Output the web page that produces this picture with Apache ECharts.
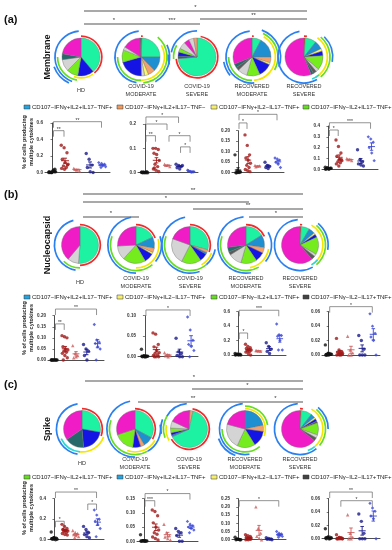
<!DOCTYPE html>
<html><head><meta charset="utf-8">
<script src="https://cdn.jsdelivr.net/npm/echarts/dist/echarts.min.js"></script>
<style>html,body{margin:0;padding:0;background:#fff}#c{width:392px;height:550px}</style>
</head><body><div id="c"></div>
<script>
// ---------------- DATA ----------------
const groupLabels = ['HD', 'COVID-19\nMODERATE', 'COVID-19\nSEVERE', 'RECOVERED\nMODERATE', 'RECOVERED\nSEVERE'];
const antigenNames = ['Membrane', 'Nucleocapsid', 'Spike'];
const panelLetters = ['(a)', '(b)', '(c)'];
const yTitle = '% of cells producing\nmultiple cytokines';

// SPICE pie slices, clockwise from 12 o'clock (shares)
const piesMembrane = [
  [['aqua',140],['blue',50],['green',35],['lgray',37],['teal',18],['mag',80]],
  [['red',3],['aqua',87],['steel',45],['orange',22],['yellow',12],['lgray',10],['blue',75],['green',38],['lgray',10],['mag',55],['dgray',3]],
  [['aqua',265],['teal',8],['blue',12],['green',12],['lgray',22],['mag',16],['lgray',15],['orange',10]],
  [['aqua',28],['steel',62],['orange',18],['yellow',6],['blue',42],['green',40],['lgray',30],['dgray',10],['teal',12],['mag',112]],
  [['red',4],['aqua',34],['steel',26],['yellow',8],['blue',14],['green',44],['lgray',10],['dgray',10],['teal',8],['mag',202]]
];
const piesNucleocapsid = [
  [['aqua',185],['lgray',35],['mag',140]],
  [['aqua',65],['steel',35],['orange',14],['yellow',6],['blue',30],['green',72],['lgray',45],['mag',93]],
  [['aqua',105],['orange',10],['steel',5],['blue',25],['green',62],['lgray',83],['mag',70]],
  [['aqua',58],['steel',40],['orange',18],['blue',30],['green',50],['lgray',42],['dgray',10],['teal',15],['mag',97]],
  [['red',4],['aqua',26],['steel',20],['yellow',5],['blue',10],['green',55],['lgray',8],['dgray',12],['mag',220]]
];
const piesSpike = [
  [['aqua',100],['blue',75],['teal',60],['mag',125]],
  [['aqua',118],['steel',32],['orange',12],['blue',25],['green',65],['mag',108]],
  [['red',3],['orange',10],['aqua',232],['steel',5],['blue',8],['green',15],['lgray',22],['mag',65]],
  [['steel',78],['orange',20],['blue',50],['green',57],['lgray',80],['mag',75]],
  [['red',4],['aqua',34],['steel',14],['yellow',5],['blue',8],['dgray',6],['green',38],['lgray',10],['dgray',10],['mag',231]]
];
// SPICE arcs: [startDeg, endDeg, colour key, ring level]
const arcsMembrane = [
  [[0,140,'red',1],[145,200,'yellow',1],[190,270,'green',2],[200,355,'blue',3],[205,250,'blue',4]],
  [[0,5,'red',1],[60,185,'yellow',2],[40,175,'green',3],[180,270,'green',2],[65,150,'blue',4],[190,355,'blue',3]],
  [[10,265,'red',1],[265,300,'green',2],[280,360,'blue',3],[255,275,'blue',4]],
  [[0,5,'red',1],[30,175,'yellow',2],[25,120,'green',3],[20,110,'blue',4],[180,270,'green',2],[175,355,'blue',3],[230,260,'blue',4]],
  [[0,8,'red',1],[35,150,'yellow',2],[40,140,'green',3],[45,100,'blue',4],[150,350,'blue',3],[140,160,'cyan',2]]
];
const arcsNucleocapsid = [
  [[0,180,'red',1],[180,225,'green',2],[190,345,'blue',3]],
  [[0,70,'red',1],[75,180,'yellow',2],[70,130,'blue',3],[140,290,'green',3],[180,350,'blue',4]],
  [[0,110,'red',1],[110,150,'yellow',2],[140,290,'green',3],[160,350,'blue',4],[100,140,'blue',3]],
  [[0,65,'red',1],[100,170,'yellow',2],[150,290,'green',3],[170,355,'blue',4],[60,130,'blue',3]],
  [[0,6,'red',1],[30,150,'yellow',2],[40,140,'green',3],[40,100,'blue',4],[150,355,'blue',3],[130,150,'cyan',2]]
];
const arcsSpike = [
  [[0,110,'red',1],[110,185,'yellow',2],[185,245,'cyan',2],[190,350,'blue',3]],
  [[0,120,'red',1],[120,200,'yellow',2],[150,290,'green',3],[180,350,'blue',4],[80,150,'blue',3]],
  [[10,240,'red',1],[240,280,'yellow',2],[250,300,'green',3],[260,290,'blue',4],[300,355,'blue',3]],
  [[0,110,'yellow',1],[0,80,'green',2],[140,270,'green',2],[170,355,'blue',3],[200,250,'blue',4]],
  [[0,8,'red',1],[30,140,'yellow',2],[40,130,'green',3],[40,90,'blue',4],[140,355,'blue',3],[140,160,'cyan',2]]
];
// significance between pies: [groupFrom, groupTo, row, label]
const sigMembrane = [[0,4,0,'*'],[2,4,1,'**'],[0,1,2,'*'],[1,2,2,'***']];
const sigNucleocapsid = [[0,4,0,'**'],[0,3,1,'*'],[2,4,2,'**'],[0,1,3,'*'],[3,4,3,'*']];
const sigSpike = [[0,4,0,'*'],[2,4,1,'*'],[1,3,2,'**'],[3,4,2,'*']];

// legend labels for scatter rows
const legendMembrane = [['CD107−IFNγ+IL2+IL17−TNF+','blue'],['CD107−IFNγ+IL2+IL17−TNF−','orange'],['CD107−IFNγ+IL2−IL17−TNF+','yellow'],['CD107−IFNγ−IL2+IL17−TNF+','green']];
const legendNucleocapsid = [['CD107−IFNγ+IL2+IL17−TNF+','blue'],['CD107−IFNγ+IL2−IL17−TNF+','yellow'],['CD107−IFNγ−IL2+IL17−TNF+','green'],['CD107−IFNγ−IL2−IL17+TNF+','dark']];
const legendSpike = [['CD107−IFNγ−IL2+IL17−TNF+','green'],['CD107−IFNγ+IL2+IL17−TNF+','blue'],['CD107−IFNγ+IL2−IL17−TNF+','yellow'],['CD107−IFNγ−IL2−IL17+TNF+','dark']];

// scatter values per plot: [HD, COVID mod, COVID sev, Rec mod, Rec sev]
const memP1 = [[0,0,0.01,0,0.02,0.01,0,0.03,0.01,0,0.04],[0.33,0.30,0.24,0.16,0.12,0.10,0.08,0.06,0.05,0.04,0.09],[0.05,0.03,0.02,0.04],[0.23,0.16,0.09,0.06,0.01,0],[0.12,0.11,0.10,0.09,0.08,0.07,0.06]];
const memP2 = [[0.002,0,0.004,0,0.001,0,0.003,0,0.002],[0.10,0.10,0.095,0.08,0.075,0.05,0.035,0.025,0.015,0.01,0.005,0.02],[0.035,0.03,0.025,0.03],[0.035,0.03,0.025,0.02,0.015,0.03],[0.01,0.005,0.003,0.008,0.002,0.004]];
const memP3 = [[0.085,0.01,0.005,0,0.002,0.003,0,0.001],[0.18,0.13,0.085,0.07,0.06,0.045,0.035,0.025,0.015,0.01,0.005],[0.035,0.03,0.032,0.028],[0.05,0.035,0.03,0.025,0.02],[0.07,0.065,0.06,0.05,0.04,0.025]];
const memP4 = [[0.02,0.01,0.01,0.005,0,0.01,0.015,0.005,0],[0.27,0.21,0.15,0.12,0.09,0.08,0.07,0.06,0.05,0.03,0.09],[0.10,0.09,0.08,0.09],[0.18,0.09,0.07,0.05,0.04,0.03],[0.30,0.28,0.25,0.20,0.15,0.08]];
const nucP1 = [[0,0,0,0,0,0,0,0,0],[0.11,0.105,0.10,0.06,0.05,0.045,0.04,0.035,0.03,0.02,0.01,0],[0.065,0.03,0.02,0.01,0.015],[0.07,0.05,0.04,0.02,0],[0.16,0.09,0.08,0.075,0.06,0.05,0]];
const nucP2 = [[0.018,0.002,0.001,0,0,0.001,0.002,0,0.001,0],[0.058,0.055,0.03,0.024,0.015,0.01,0.008,0.005,0.003,0,0,0],[0.01,0.005,0.003,0.002,0],[0.045,0.012,0.008,0.003,0,0],[0.097,0.065,0.04,0.03,0.025,0.015,0]];
const nucP3 = [[0.02,0.01,0.01,0.005,0,0,0.01,0.005,0],[0.15,0.12,0.10,0.09,0.08,0.07,0.06,0.05,0.04,0.02,0],[0.06,0.055,0.05,0.06],[0.17,0.12,0.08,0.05,0.02],[0.43,0.28,0.27,0.26,0.20,0.07,0.07]];
const nucP4 = [[0.014,0.002,0.001,0,0,0.001,0,0.001,0],[0.023,0.007,0.005,0.004,0.003,0.002,0.001,0,0,0,0.001],[0.026,0.007,0.003,0,0],[0.027,0.02,0.008,0,0,0],[0.057,0.04,0.03,0.025,0.02,0]];
const spkP1 = [[0.075,0.02,0.015,0.01,0.01,0.005,0.005,0,0.01,0.02],[0.15,0.13,0.11,0.10,0.09,0.085,0.08,0.07,0.06,0.05,0.045,0.10],[0.09,0.07,0.06,0.05,0.04,0.03,0.02],[0.13,0.10,0.07,0.05,0.03,0.02],[0.29,0.24,0.20,0.18,0.15,0.11,0.03]];
const spkP2 = [[0.023,0.002,0.001,0,0,0.001,0.002,0,0.001],[0.11,0.105,0.09,0.065,0.05,0.04,0.03,0.025,0.015,0.01,0.005],[0.06,0.03,0.02,0.015,0.01,0.005],[0.045,0.035,0.03,0.02,0,0],[0.07,0.06,0.055,0.05,0.045,0.04,0.03]];
const spkP3 = [[0.015,0.005,0,0,0.002,0,0.003,0.001],[0.03,0.025,0.02,0.015,0.01,0.01,0.005,0.005,0,0,0.003],[0.20,0.07,0.04,0.02,0.01,0],[0.012,0.008,0.005,0.003,0.002,0],[0.05,0.04,0.035,0.03,0.025,0.02,0.015]];
const spkP4 = [[0.015,0.002,0.001,0,0,0.001,0.002,0,0.001],[0.006,0.002,0.001,0,0,0,0,0.001,0,0.002,0],[0.036,0.008,0.002,0,0],[0.037,0.026,0.008,0,0,0],[0.053,0.046,0.041,0.034,0.03,0]];

// y axis [max, interval] per plot
const axesMembrane = [[0.6,0.2],[0.2,0.1],[0.2,0.05],[0.4,0.1]];
const axesNucleocapsid = [[0.2,0.05],[0.1,0.05],[0.6,0.2],[0.06,0.02]];
const axesSpike = [[0.4,0.2],[0.15,0.05],[0.25,0.05],[0.06,0.02]];

// scatter significance brackets: [from, to, yValue, label]
const brMembrane = [[[0,4,0.616,'**'],[0,1,0.507,'**']],[[0,3,0.229,'*'],[0,2,0.2,'*'],[0,1,0.152,'**'],[2,4,0.152,'*'],[3,4,0.106,'*']],[[0,4,0.278,'*'],[0,1,0.237,'*']],[[0,4,0.43,'***'],[0,1,0.363,'*']]];
const brNucleocapsid = [[[0,4,0.23,'**'],[0,1,0.163,'**']],[[0,4,0.114,'*']],[[0,4,0.62,'***'],[0,1,0.305,'*']],[[0,4,0.067,'*']]];
const brSpike = [[[0,4,0.465,'**'],[3,4,0.348,'*'],[0,1,0.18,'*']],[[0,4,0.168,'*'],[0,1,0.143,'***']],[[0,4,0.238,'*']],[[0,4,0.07,'**'],[1,4,0.057,'*']]];

// ---------------- STYLE / LAYOUT ----------------
const FONT = 'Liberation Sans, Arial, sans-serif';
const pieColors = {aqua:'#1cf2a2', mag:'#f01dc6', blue:'#1414e4', steel:'#1e8fd0', orange:'#f3a06c', yellow:'#fafa6c', green:'#74ec1e', lgray:'#d4d4d4', teal:'#26696a', dgray:'#5a5a5a', red:'#e6402a'};
const arcColors = {red:'#f22a2a', yellow:'#f4e600', green:'#66dd22', blue:'#2b80f0', cyan:'#2fd6d0'};
const legendColors = {blue:'#27a4e0', orange:'#f09a60', yellow:'#f6ee6c', green:'#66dd22', dark:'#444444'};
const groupColors = ['#111111','#a01818','#cc5c5c','#1c1c8c','#3a46d6'];
const groupSymbols = ['circle','circle','triangle','circle','diamond'];

const panels = [
  {pies:piesMembrane, arcs:arcsMembrane, sig:sigMembrane, legend:legendMembrane, plots:[memP1,memP2,memP3,memP4], axes:axesMembrane, br:brMembrane,
   cy:57, cx:[81,141,197,252,304], R:19, sigY:[11,19,24,26], labY:90, letterY:20, legendY:107, titleY:142,
   grids:[[45,110,123,172.5],[138,198,124,172.7],[232,284,130.7,172.7],[322,378,126,169.3]]},
  {pies:piesNucleocapsid, arcs:arcsNucleocapsid, sig:sigNucleocapsid, legend:legendNucleocapsid, plots:[nucP1,nucP2,nucP3,nucP4], axes:axesNucleocapsid, br:brNucleocapsid,
   cy:245, cx:[80,136,190,246,300], R:18.5, sigY:[194,202,209,217], labY:282, letterY:195, legendY:297, titleY:328,
   grids:[[48,104,315.7,360],[138,198,315.7,356.7],[232,286,311.7,355],[322,380,311.7,355]]},
  {pies:piesSpike, arcs:arcsSpike, sig:sigSpike, legend:legendSpike, plots:[spkP1,spkP2,spkP3,spkP4], axes:axesSpike, br:brSpike,
   cy:429, cx:[82,135,189,245,300], R:18.5, sigY:[381,389,402], labY:463, letterY:385, legendY:477, titleY:508,
   grids:[[48,104,498.7,539.7],[137,198,498.7,541.3],[232,286,498.7,539.7],[322,380,498.7,538.7]]}
];
const legendX = [24,117,211,303];

const option = {animation:false, backgroundColor:'#fff', grid:[], xAxis:[], yAxis:[], series:[], graphic:{elements:[]}};
const G = option.graphic.elements;
const txt = (x,y,text,o) => G.push(Object.assign({type:'text', x, y, silent:true,
  style:Object.assign({text, fill:'#222', font:'6px '+FONT, align:'center', verticalAlign:'middle', textAlign:'center', textVerticalAlign:'middle'}, o.style||{})}, o.el||{}));

// pixel-space significance lines above pies
const sigSegments = [];

let gi = 0;
panels.forEach((P, pi) => {
  txt(4, P.letterY, panelLetters[pi], {style:{font:'bold 11px '+FONT, align:'left', textAlign:'left', fill:'#111'}});
  txt(48, P.cy, antigenNames[pi], {el:{rotation:Math.PI/2}, style:{font:'bold 9px '+FONT, fill:'#111'}});
  P.pies.forEach((slices, g) => {
    option.series.push({type:'pie', silent:true, center:[P.cx[g], P.cy], radius:[0, P.R], startAngle:90, clockwise:true,
      label:{show:false}, labelLine:{show:false}, itemStyle:{borderColor:'#707070', borderWidth:0.4},
      data:slices.map(([k,v]) => ({name:k, value:v, itemStyle:{color:pieColors[k]}}))});
    P.arcs[g].forEach(([a0,a1,c,lvl]) => {
      const r0 = P.R + 1 + (lvl-1)*2.6;
      option.series.push({type:'pie', silent:true, center:[P.cx[g], P.cy], radius:[r0, r0+1.7], startAngle:90 - a0, clockwise:true,
        label:{show:false}, labelLine:{show:false}, itemStyle:{borderWidth:0},
        data:[{value:a1-a0, itemStyle:{color:arcColors[c]}}, {value:360-(a1-a0), itemStyle:{color:'rgba(0,0,0,0)'}}]});
    });
    txt(P.cx[g], P.labY, groupLabels[g], {style:{font:'5.5px '+FONT, fill:'#333', lineHeight:8}});
  });
  P.sig.forEach(([a,b,row,lab]) => {
    sigSegments.push([P.cx[a] + 3, P.cx[b] + 3, P.sigY[row], lab]);
  });
  P.legend.forEach(([lab,c], i) => {
    G.push({type:'rect', silent:true, shape:{x:legendX[i], y:P.legendY-2, width:6, height:4}, style:{fill:legendColors[c], stroke:'#333', lineWidth:0.5}});
    txt(legendX[i]+8, P.legendY, lab, {style:{font:'6px '+FONT, align:'left', textAlign:'left', fill:'#222'}});
  });
  txt(28, P.titleY, yTitle, {el:{rotation:Math.PI/2}, style:{font:'bold 5.5px '+FONT, fill:'#222', lineHeight:7}});
  P.plots.forEach((plot, k) => {
    const [L,Rr,T,B] = P.grids[k];
    const [ymax, step] = P.axes[k];
    const dec = step < 0.1 ? 2 : 1;
    option.grid.push({left:L, top:T, width:Rr-L, height:B-T, containLabel:false});
    option.xAxis.push({gridIndex:gi, type:'value', min:-0.6, max:4.6, offset:1.5,
      axisLine:{show:true, lineStyle:{color:'#222', width:0.8}}, axisTick:{show:false}, axisLabel:{show:false}, splitLine:{show:false}});
    option.yAxis.push({gridIndex:gi, type:'value', min:0, max:ymax, interval:step,
      axisLine:{show:true, lineStyle:{color:'#222', width:0.8}}, axisTick:{show:true, length:2, lineStyle:{width:0.6}},
      axisLabel:{fontSize:4.6, fontFamily:FONT, fontWeight:'bold', color:'#333', margin:2, formatter:v => v.toFixed(dec)},
      splitLine:{show:false}});
    const stats = [];
    plot.forEach((vals, g) => {
      option.series.push({type:'scatter', xAxisIndex:gi, yAxisIndex:gi, silent:true, symbol:groupSymbols[g], symbolSize:3.4,
        itemStyle:{color:groupColors[g]},
        data:vals.map((v,i) => [g + (((i*0.381966) % 1) - 0.5) * 0.6, v])});
      const n = vals.length, m = vals.reduce((a,b)=>a+b,0)/n;
      const sd = Math.sqrt(vals.reduce((a,b)=>a+(b-m)*(b-m),0)/(n-1));
      stats.push([g, m, sd/Math.sqrt(n)]);
    });
    option.series.push({type:'custom', xAxisIndex:gi, yAxisIndex:gi, silent:true, clip:false, encode:{x:0, y:1}, data:stats, z:3,
      renderItem:(params, api) => {
        const g = api.value(0), m = api.value(1), s = api.value(2), c = groupColors[g];
        const a = api.coord([g-0.32, m]), b = api.coord([g+0.32, m]);
        const t = api.coord([g, m+s]), u = api.coord([g, Math.max(0, m-s)]);
        const ct1 = api.coord([g-0.16, m+s]), ct2 = api.coord([g+0.16, m+s]);
        const cb1 = api.coord([g-0.16, Math.max(0,m-s)]), cb2 = api.coord([g+0.16, Math.max(0,m-s)]);
        const st = {stroke:c, lineWidth:0.9};
        return {type:'group', children:[
          {type:'line', shape:{x1:a[0], y1:a[1], x2:b[0], y2:b[1]}, style:st},
          {type:'line', shape:{x1:t[0], y1:t[1], x2:u[0], y2:u[1]}, style:st},
          {type:'line', shape:{x1:ct1[0], y1:ct1[1], x2:ct2[0], y2:ct2[1]}, style:st},
          {type:'line', shape:{x1:cb1[0], y1:cb1[1], x2:cb2[0], y2:cb2[1]}, style:st}]};
      }});
    const brs = P.br[k];
    option.series.push({type:'custom', xAxisIndex:gi, yAxisIndex:gi, silent:true, clip:false, encode:{x:0, y:2},
      data:brs.map(b => [b[0], b[1], b[2]]),
      renderItem:(params, api) => {
        const p1 = api.coord([api.value(0), api.value(2)]), p2 = api.coord([api.value(1), api.value(2)]);
        return {type:'group', children:[
          {type:'polyline', shape:{points:[[p1[0]+1,p1[1]+6],[p1[0]+1,p1[1]],[p2[0]-1,p2[1]],[p2[0]-1,p2[1]+6]]}, style:{stroke:'#666', lineWidth:0.7, fill:null}},
          {type:'text', style:{text:brs[params.dataIndex][3], x:(p1[0]+p2[0])/2, y:p1[1]+1, align:'center', verticalAlign:'bottom', font:'5px '+FONT, fill:'#333'}}]};
      }});
    gi++;
  });
});

// significance lines over the pie rows, drawn in pixel space
option.series.push({type:'custom', coordinateSystem:'none', silent:true, data:sigSegments.map(s => [s[0], s[1], s[2]]),
  renderItem:(params, api) => {
    const x1 = api.value(0), x2 = api.value(1), y = api.value(2);
    return {type:'group', children:[
      {type:'line', shape:{x1, y1:y, x2, y2:y}, style:{stroke:'#555', lineWidth:1.1}},
      {type:'text', style:{text:sigSegments[params.dataIndex][3], x:(x1+x2)/2, y:y-1, align:'center', verticalAlign:'bottom', font:'6px '+FONT, fill:'#333'}}]};
  }});

const chart = echarts.init(document.getElementById('c'), null, {renderer:'canvas', width:392, height:550});
chart.setOption(option);
</script></body></html>
